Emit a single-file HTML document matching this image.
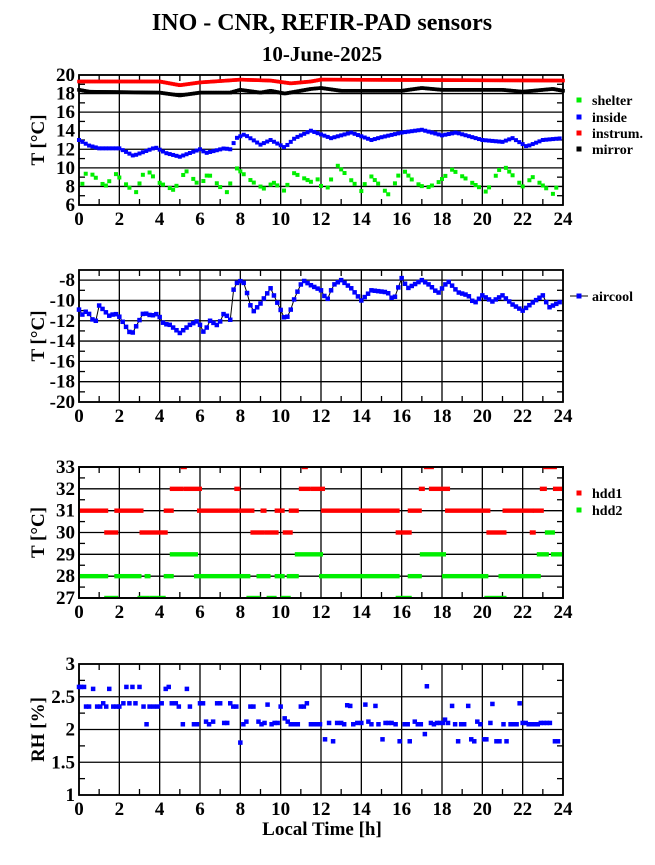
<!DOCTYPE html>
<html><head><meta charset="utf-8"><style>
body{margin:0;background:#fff;}
svg text{font-family:"Liberation Serif",serif;font-weight:bold;}
</style></head><body>
<svg id="s" width="655" height="860" xmlns="http://www.w3.org/2000/svg">
<defs><clipPath id="c3"><rect x="79" y="467" width="484" height="131"/></clipPath></defs>
<text x="322" y="30" font-size="24" text-anchor="middle">INO - CNR, REFIR-PAD sensors</text>
<text x="322" y="61" font-size="21" text-anchor="middle">10-June-2025</text>
</svg>
<script>
const S=document.getElementById('s');const NS='http://www.w3.org/2000/svg';
let PARENT=S;
function el(t,a,txt){const e=document.createElementNS(NS,t);for(const k in a)e.setAttribute(k,a[k]);if(txt!==undefined)e.textContent=txt;PARENT.appendChild(e);return e;}
const X0=79,X1=563;const xs=h=>X0+(X1-X0)*h/24;
function interp(kp,h){for(let i=0;i<kp.length-1;i++){if(h>=kp[i][0]&&h<=kp[i+1][0]){const t=(h-kp[i][0])/(kp[i+1][0]-kp[i][0]);return kp[i][1]+t*(kp[i+1][1]-kp[i][1]);}}return kp[kp.length-1][1];}
function panel(top,bot,vmin,vmax,major,minor,labels,ytitle){
 const ys=v=>bot-(bot-top)*(v-vmin)/(vmax-vmin);
 for(let v=vmin;v<=vmax+1e-9;v+=major){const y=ys(v);el('line',{x1:X0,x2:X1,y1:y,y2:y,stroke:'#000','stroke-width':1.3});}
 for(let h=0;h<=24;h+=2){const x=xs(h);el('line',{x1:x,x2:x,y1:top,y2:bot,stroke:'#000','stroke-width':1.3});}
 for(let h=1;h<24;h+=2){const x=xs(h);el('line',{x1:x,x2:x,y1:top,y2:top+6,stroke:'#000','stroke-width':1.3});el('line',{x1:x,x2:x,y1:bot,y2:bot-6,stroke:'#000','stroke-width':1.3});}
 for(let v=vmin+minor;v<vmax;v+=major){const y=ys(v);el('line',{x1:X0,x2:X0+6,y1:y,y2:y,stroke:'#000','stroke-width':1.3});el('line',{x1:X1,x2:X1-6,y1:y,y2:y,stroke:'#000','stroke-width':1.3});}
 el('rect',{x:X0,y:top,width:X1-X0,height:bot-top,fill:'none',stroke:'#000','stroke-width':1.8});
 for(let h=0;h<=24;h+=2)el('text',{x:xs(h),y:bot+20,'font-size':19,'text-anchor':'middle'},h);
 labels.forEach(v=>el('text',{x:X0-4,y:ys(v)+6,'font-size':19,'text-anchor':'end'},v));
 const cy=(top+bot)/2;el('text',{x:0,y:0,'font-size':19,'text-anchor':'middle',transform:`translate(44,${cy}) rotate(-90)`},ytitle);
 return ys;
}
function sq(x,y,c,w=4.5){el('rect',{x:x-w/2,y:y-w/2,width:w,height:w,fill:c});}
function legend(y,c,t){sq(579,y,c,5);el('text',{x:592,y:y+5,'font-size':14},t);}
// Panel 1
let ys=panel(75,205,6,20,2,1,[6,8,10,12,14,16,18,20],'T [°C]');
const red=[[0,19.3],[4,19.3],[5,18.9],[6,19.2],[8,19.5],[9.5,19.4],[10.5,19.1],[11.5,19.3],[12,19.5],[24,19.4]];
const blk=[[0,18.4],[0.5,18.2],[4,18.1],[5,17.8],[6,18.1],[7.5,18.1],[8,18.4],[9,18.1],[9.5,18.3],[10.2,18.0],[11.5,18.5],[12,18.6],[13,18.3],[16,18.3],[17,18.6],[18,18.4],[21,18.4],[22,18.2],[23.5,18.5],[24,18.3]];
const blu=[[0,13],[0.5,12.4],[1,12.1],[2,12.1],[2.7,11.3],[3.8,12.2],[4.3,11.6],[5,11.2],[6,12],[6.3,11.6],[7.2,12.1],[7.5,12],[7.8,13.2],[8.2,13.6],[9,12.5],[9.5,13],[10.2,12.2],[10.7,13.2],[11.5,14],[12.5,13.2],[13.5,13.8],[14.5,13],[15,13.3],[16,13.8],[17,14.1],[18,13.5],[18.7,13.8],[20,13],[21,12.8],[21.5,13.2],[22.2,12.3],[23,13],[24,13.2]];
const grn=[[0,7.2],[0.4,9.8],[1.3,8],[1.8,9.4],[2.8,7.2],[3.3,10],[3.9,8.5],[4.7,7.6],[5.3,9.7],[6,8],[6.4,9.4],[7.3,7.2],[7.8,10],[8.6,8.5],[9.3,7.6],[9.6,8.5],[10.2,7.5],[10.6,9.5],[11.5,8.5],[11.8,8.9],[12.2,7.2],[12.8,10.3],[14,7.5],[14.4,9.3],[15.4,7],[16,10],[16.6,8.5],[17.2,7.8],[17.8,8.4],[18.5,9.8],[20.2,7.4],[21,10.4],[22,8],[22.5,9],[23.5,7.2],[24,9.2]];
for(let h=0;h<=24;h+=1/12){sq(xs(h),ys(interp(red,h)),'#f00',3.6);}
for(let h=0;h<=24;h+=1/12){sq(xs(h),ys(interp(blk,h)),'#000',3.6);}
for(let h=0;h<=24;h+=1/6){sq(xs(h),ys(interp(blu,h)),'#00f',4);}
let k=0;for(let h=0;h<=24;h+=1/6){k++;if((k*7)%10<7)sq(xs(h),ys(interp(grn,h)),'#0e0',4);}
legend(100,'#0e0','shelter');legend(117,'#00f','inside');legend(133,'#f00','instrum.');legend(149,'#000','mirror');
// Panel 2
ys=panel(270,402,-20,-7,2,1,[-20,-18,-16,-14,-12,-10,-8],'T [°C]');
const ac=[[0,-10.9],[0.1,-11.5],[0.4,-11],[0.8,-12.3],[1,-10.5],[1.5,-11.5],[1.8,-11.3],[2,-11.6],[2.2,-12.2],[2.6,-13.4],[2.9,-12.3],[3.2,-11.2],[3.6,-11.5],[3.9,-11.3],[4.2,-12.3],[4.5,-12.4],[5,-13.2],[5.5,-12.4],[5.9,-12],[6.2,-13.2],[6.5,-12],[6.9,-12.5],[7.2,-11.2],[7.5,-11.9],[7.6,-9.2],[7.9,-8],[8.2,-8.3],[8.6,-11.2],[9,-10.3],[9.5,-8.8],[9.9,-10.5],[10.2,-11.8],[10.4,-11.5],[10.7,-9.7],[11.1,-8],[11.5,-8.5],[12,-9],[12.3,-10],[12.6,-8.5],[13,-8],[13.5,-8.8],[14,-10],[14.5,-9],[15.3,-9.2],[15.6,-10],[16,-7.8],[16.3,-8.8],[17,-8],[17.4,-8.5],[17.8,-9.3],[18.3,-8.1],[18.8,-9.2],[19.3,-9.5],[19.6,-10.3],[20,-9.5],[20.5,-10.1],[21,-9.5],[21.5,-10.4],[22,-11],[22.5,-10.2],[23,-9.5],[23.3,-10.7],[24,-10]];
let pts=[];for(let h=0;h<=24;h+=1/6)pts.push([xs(h),ys(interp(ac,h))]);
el('polyline',{points:pts.map(p=>p.join(',')).join(' '),fill:'none',stroke:'#000','stroke-width':1});
pts.forEach(p=>sq(p[0],p[1],'#00f'));
el('line',{x1:570,x2:588,y1:296,y2:296,stroke:'#000'});sq(579,296,'#00f',5);el('text',{x:592,y:301,'font-size':14},'aircool');
// Panel 3
ys=panel(467,598,27,33,1,0.5,[27,28,29,30,31,32,33],'T [°C]');
const g3=document.createElementNS(NS,'g');g3.setAttribute('clip-path','url(#c3)');S.appendChild(g3);PARENT=g3;
function segs(lv,arr,c){arr.forEach(s=>{const a=xs(s[0]),b=xs(s[1]);el('rect',{x:a-2,y:ys(lv)-2.2,width:Math.max(b-a,2)+4,height:4.4,fill:c});});}
segs(31,[[0,1.35],[1.85,3.1],[4.3,4.6],[5.95,7.8],[8.0,8.6],[9.1,9.2],[9.8,10.1],[10.5,10.8],[12.1,15.8],[16.4,16.9],[18.25,20.3],[21.1,22.45],[22.6,22.95]],'#f00');
segs(30,[[1.35,1.85],[3.1,4.3],[8.6,9.1],[9.3,9.8],[10.2,10.5],[15.8,16.4],[20.3,21.1],[22.45,22.55]],'#f00');
segs(32,[[4.6,5.1],[5.3,6.0],[7.8,7.9],[11.0,11.4],[11.6,12.1],[16.95,17.05],[17.45,18.3],[22.95,23.1],[23.6,24]],'#f00');
segs(33,[[5.15,5.2],[11.15,11.2],[17.2,17.5],[23.1,23.6]],'#f00');
segs(28,[[0,1.35],[1.85,3.0],[3.35,3.45],[4.3,4.6],[5.8,8.4],[8.9,9.4],[9.8,10.1],[10.4,10.8],[12.0,15.8],[16.4,16.9],[18.1,20.2],[20.9,22.8]],'#0e0');
segs(29,[[4.6,5.8],[10.8,12.0],[17.0,18.1],[22.8,23.2],[23.5,24]],'#0e0');
segs(30,[[23.2,23.5]],'#0e0');
segs(27,[[1.35,1.85],[3.0,3.4],[3.6,4.2],[8.4,8.9],[9.4,9.7],[10.1,10.4],[15.8,16.4],[20.2,21.1]],'#0e0');
PARENT=S;
el('rect',{x:X0,y:467,width:X1-X0,height:131,fill:'none',stroke:'#000','stroke-width':1.8});
legend(493,'#f00','hdd1');legend(510,'#0e0','hdd2');
// Panel 4
ys=panel(664,795,1,3,0.5,0.25,[1,1.5,2,2.5,3],'RH [%]');
const rh=[[0,2.65],[0.1,2.65],[0.25,2.65],[0.35,2.35],[0.5,2.35],[0.7,2.62],[0.9,2.35],[1.05,2.35],[1.2,2.4],[1.35,2.35],[1.5,2.62],[1.7,2.35],[1.85,2.35],[2.0,2.35],[2.2,2.4],[2.35,2.65],[2.5,2.4],[2.65,2.65],[2.8,2.4],[3.0,2.65],[3.2,2.35],[3.35,2.08],[3.5,2.35],[3.7,2.35],[3.9,2.35],[4.1,2.4],[4.3,2.62],[4.45,2.65],[4.6,2.4],[4.8,2.4],[4.95,2.35],[5.15,2.08],[5.35,2.62],[5.5,2.35],[5.7,2.08],[5.85,2.08],[6.0,2.4],[6.15,2.4],[6.3,2.12],[6.45,2.08],[6.65,2.12],[6.85,2.4],[7.0,2.4],[7.2,2.1],[7.35,2.1],[7.5,2.4],[7.65,2.35],[7.8,2.35],[8.0,1.8],[8.15,2.08],[8.3,2.12],[8.5,2.35],[8.65,2.35],[8.9,2.12],[9.05,2.08],[9.2,2.1],[9.35,2.38],[9.55,2.08],[9.7,2.1],[9.85,2.1],[10.0,2.35],[10.2,2.17],[10.35,2.12],[10.5,2.08],[10.7,2.08],[10.85,2.08],[11.0,2.35],[11.15,2.35],[11.3,2.4],[11.5,2.08],[11.65,2.08],[11.8,2.08],[11.95,2.08],[12.2,1.85],[12.4,2.1],[12.6,1.82],[12.8,2.1],[13.0,2.1],[13.15,2.08],[13.3,2.37],[13.45,2.36],[13.6,2.08],[13.8,2.1],[14.0,2.1],[14.2,2.38],[14.35,2.12],[14.5,2.08],[14.7,2.36],[14.85,2.08],[15.05,1.85],[15.2,2.1],[15.35,2.1],[15.5,2.1],[15.7,2.08],[15.9,1.82],[16.15,2.08],[16.3,2.08],[16.4,1.82],[16.65,2.12],[16.8,2.08],[16.95,2.08],[17.15,1.93],[17.25,2.66],[17.45,2.1],[17.6,2.08],[17.75,2.1],[17.9,2.1],[18.05,2.1],[18.15,2.15],[18.3,2.1],[18.5,2.36],[18.65,2.08],[18.8,1.82],[18.95,2.08],[19.1,2.08],[19.3,2.36],[19.45,1.85],[19.6,1.82],[19.75,2.12],[19.9,2.08],[20.1,1.85],[20.2,1.85],[20.4,2.1],[20.5,2.39],[20.7,1.82],[20.85,1.82],[21.05,2.08],[21.2,1.82],[21.4,2.08],[21.55,2.08],[21.7,2.08],[21.85,2.4],[22.0,2.1],[22.15,2.1],[22.3,2.08],[22.45,2.08],[22.6,2.08],[22.75,2.08],[22.9,2.1],[23.05,2.1],[23.2,2.1],[23.35,2.1],[23.6,1.82],[23.75,1.82]];
rh.forEach(p=>sq(xs(p[0]),ys(p[1]),'#00f'));
el('text',{x:322,y:835,'font-size':19,'text-anchor':'middle'},'Local Time [h]');
</script>
</body></html>
